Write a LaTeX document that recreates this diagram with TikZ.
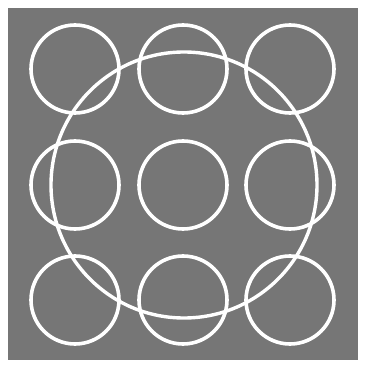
\documentclass[tikz,border=0pt]{standalone}
\begin{document}
\begin{tikzpicture}[x=1pt,y=-1pt,
  ring/.style={draw=white,line width=3.6pt},
  bigring/.style={draw=white,line width=3.4pt}]
\useasboundingbox (0,0) rectangle (370,369);
\fill[white] (0,0) rectangle (370,369);
\definecolor{bg}{RGB}{118,118,118}
\fill[bg] (8,8) rectangle (358,360);
\foreach \x/\cx in {a/75,b/183,c/290}{
  \foreach \y/\cy in {1/69,2/185,3/300}{
    \draw[ring] (\cx,\cy) circle[radius=44];
  }
}
\draw[bigring] (184,185) circle[radius=133];
\end{tikzpicture}
\end{document}
